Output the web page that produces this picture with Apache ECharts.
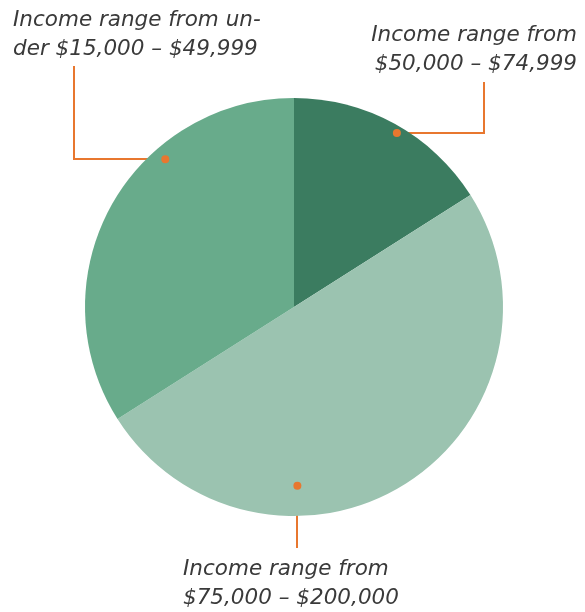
<!DOCTYPE html>
<html>
<head>
<meta charset="utf-8">
<script src="https://cdn.jsdelivr.net/npm/echarts@6/dist/echarts.min.js"></script>
<style>
    html, body { margin: 0; padding: 0; background: #fff; }
    #main { width: 585px; height: 612px; }
</style>
</head>
<body>
<div id="main"></div>
<script>
// 数据
var categories = ['$50,000 – $74,999', '$75,000 – $200,000', 'under $15,000 – $49,999'];
var labelTexts = ['Income range from\n$50,000 – $74,999', 'Income range from\n$75,000 – $200,000', 'Income range from un-\nder $15,000 – $49,999'];
var shares = [16, 50, 34];
// 引线起点（角度按百分比、半径按比例）
var anchorAngle = [8.5, 49.7, 88.6];
var anchorRadius = [0.967, 0.856, 0.938];

var colors = ['#3b7c60', '#9bc3b0', '#68ab8b'];
var lineColor = '#e8772f';
var cx = 294, cy = 307, R = 209;

function anchorPx(i) {
    var a = anchorAngle[i] / 100 * Math.PI * 2;
    var r = anchorRadius[i] * R;
    return [Math.round(cx + r * Math.sin(a)), Math.round(cy - r * Math.cos(a))];
}

// 标签位置和折线
var labelPos = [
    { x: 577, y: 21, align: 'right', bend: 484, end: [484, 82] },
    { x: 183, y: 555, align: 'left', bend: null, end: [297, 548] },
    { x: 13, y: 6, align: 'left', bend: 74, end: [74, 66] }
];

var chart = echarts.init(document.getElementById('main'));
var option = {
    animation: false,
    polar: { center: [cx, cy], radius: R },
    angleAxis: { type: 'value', min: 0, max: 100, startAngle: 90, clockwise: true, show: false },
    radiusAxis: { type: 'value', min: 0, max: 1, show: false },
    series: [{
        type: 'pie',
        center: [cx, cy],
        radius: R,
        startAngle: 90,
        clockwise: true,
        silent: true,
        data: categories.map(function(c, i) {
            return { name: c, value: shares[i], itemStyle: { color: colors[i] } };
        }),
        label: {
            show: true,
            formatter: function(p) { return labelTexts[p.dataIndex]; },
            fontFamily: 'DejaVu Sans',
            fontStyle: 'italic',
            fontWeight: 'normal',
            fontSize: 21.5,
            lineHeight: 29,
            color: '#3a3a3a',
            overflow: 'none',
            width: 300
        },
        labelLine: {
            show: true,
            lineStyle: { color: lineColor, width: 2 }
        },
        labelLayout: function(params) {
            var i = params.dataIndex;
            var lp = labelPos[i];
            var start = anchorPx(i);
            var bend, end;
            if (lp.bend == null) {
                bend = [start[0], (start[1] + lp.end[1]) / 2];
                end = [start[0], lp.end[1]];
            } else {
                bend = [lp.bend, start[1]];
                end = lp.end;
            }
            return {
                x: lp.x,
                y: lp.y,
                align: lp.align,
                verticalAlign: 'top',
                labelLinePoints: [start, bend, end]
            };
        }
    }, {
        type: 'scatter',
        coordinateSystem: 'polar',
        symbolSize: 8,
        silent: true,
        itemStyle: { color: lineColor, opacity: 1 },
        data: anchorAngle.map(function(a, i) { return [anchorRadius[i], a]; }),
        z: 5
    }]
};
chart.setOption(option);
</script>
</body>
</html>
